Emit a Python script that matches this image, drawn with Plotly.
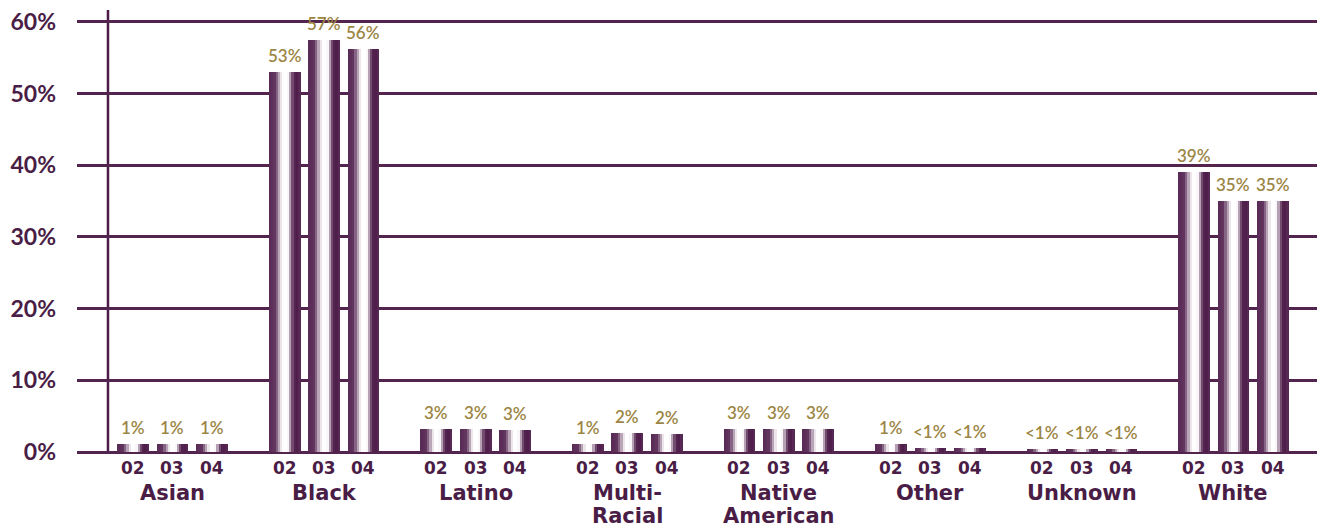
import numpy as np
import plotly.graph_objects as go

# ---------------- data ----------------
categories = ["Asian", "Black", "Latino", "Multi-<br>Racial", "Native<br>American",
              "Other", "Unknown", "White"]
years = ["02", "03", "04"]
vals_02 = [1.1, 53.0, 3.2, 1.1, 3.2, 1.1, 0.4, 39.0]
vals_03 = [1.1, 57.5, 3.2, 2.6, 3.2, 0.5, 0.4, 35.0]
vals_04 = [1.1, 56.2, 3.1, 2.5, 3.2, 0.5, 0.4, 35.0]
series = [vals_02, vals_03, vals_04]
y_ticks = [0, 10, 20, 30, 40, 50, 60]
y_tick_text = [f"{t}%" for t in y_ticks]

# ---------------- style ----------------
DARK = (77, 27, 73)
TEXT = "#4a1d46"
GOLD = "#9c8645"
BAR_W = 0.208          # bar width in category units
YEAR_STEP = 0.260      # spacing between the year bars of one group
N_SLICES = 14          # slices used to fake the cylindrical shading
CAT_LINE_PX = 23       # line spacing of the two-line category labels

prof_t = [0.0, 0.20, 0.42, 0.60, 0.78, 0.93, 1.0]
prof_w = [0.06, 0.12, 1.0, 1.0, 0.05, 0.0, 0.12]


def slice_color(t):
    w = float(np.interp(t, prof_t, prof_w))
    r, g, b = [int(round(c * (1 - w) + 255 * w)) for c in DARK]
    return f"rgb({r},{g},{b})"


fig = go.Figure()
idx = list(range(len(categories)))

for k, vals in enumerate(series):
    base_off = (k - 1) * YEAR_STEP - BAR_W / 2
    sw = BAR_W / N_SLICES
    for j in range(N_SLICES):
        t = (j + 0.5) / N_SLICES
        fig.add_trace(go.Bar(
            x=idx, y=vals,
            offset=base_off + j * sw, width=sw * 1.08,
            marker=dict(color=slice_color(t), line=dict(width=0)),
            showlegend=False, hoverinfo="skip"))

annotations = []
for k, vals in enumerate(series):
    for i, v in enumerate(vals):
        xpos = i + (k - 1) * YEAR_STEP
        label = "<1%" if v < 1 else f"{int(v)}%"
        annotations.append(dict(
            x=xpos, y=v, xref="x", yref="y", text=label, showarrow=False,
            yanchor="bottom", yshift=4,
            font=dict(family="Lato", size=17, color=GOLD, weight=600)))
        annotations.append(dict(
            x=xpos, y=-0.037, xref="x", yref="paper", text=years[k],
            showarrow=False, yanchor="middle",
            font=dict(family="DejaVu Sans", size=17, color=TEXT, weight="bold")))

for i, c in enumerate(categories):
    for li, line in enumerate(c.split("<br>")):
        annotations.append(dict(
            x=i, y=-0.093, xref="x", yref="paper", text=line, showarrow=False,
            yanchor="middle", align="center", yshift=-li * CAT_LINE_PX,
            font=dict(family="DejaVu Sans", size=21, color=TEXT, weight="bold")))

# the page body has an 8px margin, so the figure is 8px smaller and shifted
fig.update_layout(
    width=1317, height=521, autosize=False,
    margin=dict(l=69, r=0, t=2, b=77),
    paper_bgcolor="white", plot_bgcolor="white",
    barmode="overlay", bargap=0,
    annotations=annotations,
    shapes=[dict(type="line", xref="x", yref="paper", x0=-0.4256, x1=-0.4256,
                 y0=0, y1=1, line=dict(color="rgb(77,27,73)", width=2.5),
                 layer="below")],
    xaxis=dict(range=[-0.630, 7.604], showticklabels=False, showgrid=False,
               zeroline=False, showline=False, ticks=""),
    yaxis=dict(range=[0, 61.67], tickvals=y_ticks, ticktext=y_tick_text,
               showgrid=True, gridcolor="rgb(82,36,78)", gridwidth=2.5,
               zeroline=True, zerolinecolor="rgb(82,36,78)", zerolinewidth=2.5,
               showline=False, ticks="", ticklabelstandoff=20,
               ticklabeloverflow="allow",
               tickfont=dict(family="Lato", size=23, color=TEXT, weight="bold")),
)

fig.write_html("out.html")
